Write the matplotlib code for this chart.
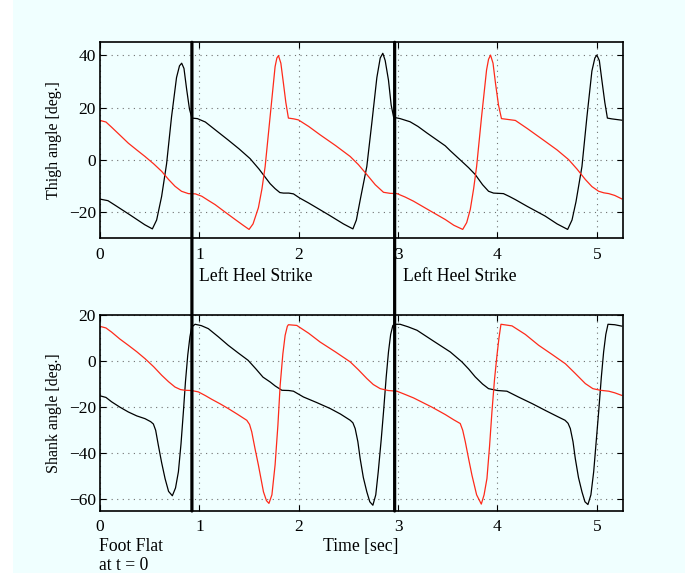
import matplotlib
matplotlib.use("Agg")
import matplotlib.pyplot as plt
from matplotlib.patches import Rectangle, ConnectionPatch

plt.rcParams['font.family'] = ['Liberation Serif', 'DejaVu Serif']
plt.rcParams['axes.unicode_minus'] = True

# ---------------- data ----------------
thigh_black_t = [0, 0.08, 0.15, 0.3, 0.45, 0.527, 0.57, 0.62, 0.67, 0.72, 0.77, 0.80, 0.822, 0.845, 0.872, 0.9, 0.925,
                 0.98, 1.06, 1.15, 1.29, 1.4, 1.51, 1.6, 1.66, 1.712, 1.762, 1.81, 1.846, 1.9, 1.947, 2.01, 2.1, 2.3,
                 2.45, 2.545, 2.58, 2.62, 2.685, 2.735, 2.786, 2.82, 2.846, 2.87, 2.903, 2.93, 2.955, 3.02, 3.12, 3.2,
                 3.29, 3.474, 3.525, 3.642, 3.71, 3.776, 3.85, 3.91, 3.96, 4.06, 4.12, 4.18, 4.3, 4.48, 4.6, 4.706,
                 4.75, 4.79, 4.85, 4.90, 4.95, 4.98, 5.0, 5.025, 5.05, 5.08, 5.106, 5.15, 5.25]
thigh_black_v = [-15, -15.6, -17.3, -21, -24.8, -26.4, -23, -14, -1.5, 16.5, 31.5, 36, 37, 35, 27, 19.5, 16,
                 15.8, 14.5, 11.8, 7.6, 4.2, 0.5, -3.5, -6.5, -9.1, -11, -12.5, -12.7, -12.7, -13, -14.6, -16.5, -21,
                 -24.5, -26.4, -23, -15, -2.5, 14, 31.5, 39, 40.8, 38, 30.5, 21, 16.3, 15.8, 14.6, 12.8,
                 10.3, 5.4, 3.5, -0.6, -3, -5.6, -9.5, -12, -12.7, -12.9, -14, -15.2, -17.8, -21.5, -24.5, -26.6,
                 -23, -16, -2.5, 16.5, 34, 39, 40.1, 38, 30.6, 22, 16, 15.7, 15.2]

thigh_red_t = [0, 0.06, 0.117, 0.2, 0.285, 0.37, 0.453, 0.54, 0.621, 0.69, 0.755, 0.82, 0.889, 0.96, 1.024, 1.09,
               1.158, 1.26, 1.36, 1.44, 1.50, 1.54, 1.594, 1.63, 1.662, 1.712, 1.762, 1.78, 1.796, 1.82, 1.846, 1.87,
               1.896, 1.95, 1.997, 2.1, 2.215, 2.37, 2.518, 2.6, 2.685, 2.77, 2.853, 2.92, 2.988, 3.07, 3.155, 3.3,
               3.474, 3.56, 3.65, 3.69, 3.726, 3.76, 3.79, 3.84, 3.89, 3.91, 3.93, 3.955, 3.98, 4.01, 4.04, 4.1,
               4.18, 4.3, 4.48, 4.6, 4.716, 4.8, 4.884, 4.95, 5.018, 5.07, 5.12, 5.18, 5.25]
thigh_red_v = [15.1, 14.5, 12.5, 9.5, 6.4, 3.8, 1.3, -1.5, -4.4, -7.5, -10.1, -12, -12.9, -13, -13.9, -15.5,
               -17.1, -20, -22.8, -25, -26.6, -24.5, -18.3, -11, -2.5, 16.6, 35.7, 39, 39.9, 37, 29.3, 22,
               16, 15.7, 15.3, 12.8, 9.6, 5.5, 1.3, -1.8, -5.6, -9.5, -12.4, -12.8, -12.9, -14.2, -15.8, -19,
               -22.8, -25, -26.6, -24, -19, -11, -2.5, 16.6, 34.4, 38.5, 40.1, 37, 29.3, 21, 15.8, 15.5,
               15.1, 12, 7.1, 3.8, 0.1, -3.5, -7.5, -10.2, -12, -12.6, -12.9, -13.6, -14.9]

shank_black_t = [0, 0.06, 0.117, 0.2, 0.285, 0.37, 0.453, 0.51, 0.537, 0.56, 0.587, 0.62, 0.655, 0.69, 0.728, 0.76,
                 0.789, 0.815, 0.839, 0.86, 0.883, 0.905, 0.923, 0.957, 1.02, 1.09, 1.19, 1.29, 1.39, 1.49, 1.57,
                 1.64, 1.712, 1.762, 1.83, 1.9, 1.947, 2.047, 2.18, 2.316, 2.42, 2.518, 2.545, 2.568, 2.595, 2.618,
                 2.65, 2.685, 2.715, 2.746, 2.775, 2.80, 2.83, 2.853, 2.88, 2.903, 2.925, 2.947, 2.98, 3.02, 3.1,
                 3.19, 3.36, 3.525, 3.642, 3.71, 3.776, 3.85, 3.91, 4.0, 4.095, 4.21, 4.35, 4.48, 4.6, 4.68, 4.71,
                 4.733, 4.76, 4.783, 4.815, 4.85, 4.88, 4.91, 4.94, 4.968, 4.995, 5.018, 5.045, 5.068, 5.09, 5.112,
                 5.18, 5.25]
shank_black_v = [-15.1, -15.8, -17.7, -20, -22.1, -23.8, -25, -26.3, -27.3, -30, -36.5, -44, -51, -56.5, -58.4, -55,
                 -48, -36, -22.1, -9, 2.5, 10.5, 14.7, 15.9, 15.3, 14, 10.5, 6.8, 3.5, 0.3, -3.5,
                 -7, -9.1, -10.8, -12.7, -12.8, -13.1, -15.6, -18, -20.6, -23, -25.7, -26.8, -29.3, -35, -42.3,
                 -50.5, -56.7, -61, -62.5, -58, -48, -34, -22.1, -7, 3.9, 11.5, 15.4, 15.9, 15.9, 14.8,
                 13.3, 8.5, 3.9, -0.4, -3.5, -6.9, -10, -12, -12.8, -13.1, -15.6, -18.5, -21.4, -24, -25.7, -27,
                 -29.3, -35, -42.3, -50.5, -56.7, -61, -62.2, -58, -48, -34, -22.1, -7, 3.9, 11.5, 15.9,
                 15.7, 15.1]

shank_red_t = [0, 0.06, 0.117, 0.2, 0.285, 0.37, 0.453, 0.54, 0.621, 0.69, 0.755, 0.81, 0.856, 0.92, 0.99, 1.06,
               1.124, 1.21, 1.29, 1.38, 1.477, 1.505, 1.527, 1.56, 1.594, 1.645, 1.675, 1.70, 1.73, 1.762, 1.79,
               1.813, 1.84, 1.863, 1.885, 1.896, 1.98, 2.1, 2.215, 2.37, 2.518, 2.6, 2.685, 2.75, 2.82, 2.9,
               2.988, 3.07, 3.155, 3.34, 3.474, 3.56, 3.625, 3.65, 3.676, 3.71, 3.743, 3.79, 3.837, 3.865, 3.894,
               3.92, 3.944, 3.97, 3.995, 4.015, 4.035, 4.146, 4.28, 4.414, 4.55, 4.683, 4.78, 4.884, 4.96, 5.035,
               5.12, 5.18, 5.25]
shank_red_v = [15, 14.3, 12.5, 9.5, 6.8, 4, 1, -2.5, -6.2, -9, -11.3, -12.4, -12.7, -12.8, -13.4, -15,
               -16.6, -18.6, -20.6, -23, -25.7, -27.5, -30.7, -38, -45.1, -56.7, -60.5, -61.7, -58, -45, -28,
               -10.5, 3, 11.1, 15, 15.7, 15.4, 12, 8.2, 3.9, -0.4, -3.8, -7.6, -10.2, -12, -12.8,
               -13.1, -14.5, -16, -20, -23.2, -25.5, -27.1, -30, -35, -42.5, -49.5, -58, -62, -58, -50.9,
               -37, -22.1, -8, 2.5, 10, 15.9, 15.2, 11.5, 6.8, 2.8, -1.2, -5.3, -9.8, -12, -12.7,
               -13.1, -13.8, -14.9]

heel_strike_t = [0.925, 2.965]
x_ticks = [0, 1, 2, 3, 4, 5]
thigh_ticks = [-20, 0, 20, 40]
shank_ticks = [-60, -40, -20, 0, 20]

# ---------------- figure ----------------
W, H = 699, 573
fig = plt.figure(figsize=(W / 100, H / 100), dpi=100, facecolor='white')
bg = '#f0ffff'
fig.patches.append(Rectangle((13 / W, 0), (685 - 13) / W, 1, transform=fig.transFigure,
                             facecolor=bg, edgecolor='none', zorder=-10))

left = 100 / W
width = (622.7 - 100) / W
ax1 = fig.add_axes([left, 1 - 238.3 / H, width, (238.3 - 42.3) / H])
ax2 = fig.add_axes([left, 1 - 511 / H, width, (511 - 314.8) / H])

red = '#ff2a1a'
ax1.plot(thigh_black_t, thigh_black_v, color='black', lw=0.9)
ax1.plot(thigh_red_t, thigh_red_v, color=red, lw=0.9)
ax2.plot(shank_black_t, shank_black_v, color='black', lw=0.9)
ax2.plot(shank_red_t, shank_red_v, color=red, lw=0.9)

ax1.set_ylim(-30, 45)
ax2.set_ylim(-65, 20)
for ax, yt in ((ax1, thigh_ticks), (ax2, shank_ticks)):
    ax.set_facecolor(bg)
    ax.set_xlim(0, 5.26)
    ax.set_xticks(x_ticks)
    ax.set_yticks(yt)
    ax.tick_params(direction='in', length=4, width=0.8, top=True, right=True,
                   labelsize=12.5, colors='black')
    ax.tick_params(axis='x', pad=6)
    ax.tick_params(axis='y', pad=3)
    ax.grid(True, color='#707070', linestyle=(0, (1, 4)), lw=0.8)
    for s in ax.spines.values():
        s.set_linewidth(1.2)

ax1.set_ylabel('Thigh angle [deg.]', fontsize=11.5)
ax2.set_ylabel('Shank angle [deg.]', fontsize=11.5)
ax1.yaxis.set_label_coords(-0.072, 0.5)
ax2.yaxis.set_label_coords(-0.072, 0.5)

# heel strike lines spanning both panels
for t in heel_strike_t:
    cp = ConnectionPatch(xyA=(t, 45), coordsA=ax1.transData,
                         xyB=(t, -65), coordsB=ax2.transData,
                         color='black', lw=2.3, zorder=10)
    fig.add_artist(cp)

# annotations
fs = 12.7
fig.text(199 / W, 1 - 281 / H, 'Left Heel Strike', fontsize=fs, ha='left', va='baseline')
fig.text(403 / W, 1 - 281 / H, 'Left Heel Strike', fontsize=fs, ha='left', va='baseline')
fig.text(99 / W, 1 - 551 / H, 'Foot Flat', fontsize=fs, ha='left', va='baseline')
fig.text(99 / W, 1 - 570 / H, 'at t = 0', fontsize=fs, ha='left', va='baseline')
fig.text(361 / W, 1 - 551 / H, 'Time [sec]', fontsize=fs, ha='center', va='baseline')

fig.savefig('out.png', dpi=100, facecolor=fig.get_facecolor())
